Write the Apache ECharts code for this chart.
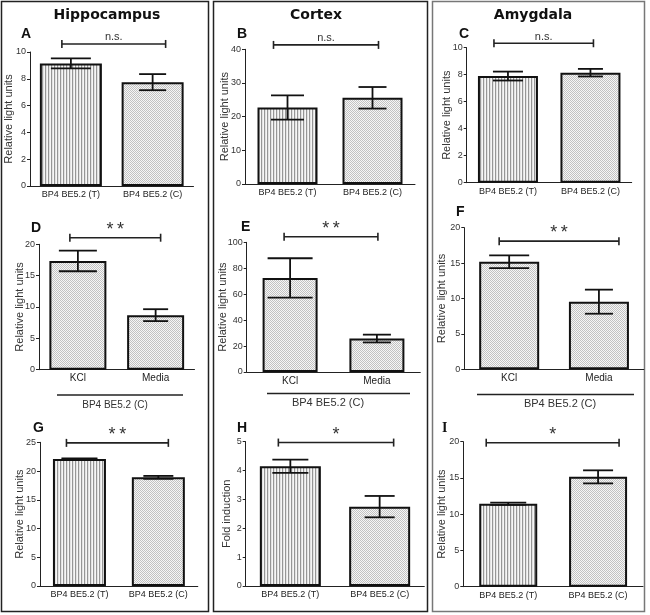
<!DOCTYPE html>
<html><head><meta charset="utf-8">
<script src="https://cdn.jsdelivr.net/npm/echarts@6/dist/echarts.min.js"></script>
<style>html,body{margin:0;padding:0;background:#fff}#c{width:650px;height:615px}</style>
</head><body><div id="c"></div>
<script>
// ---------- DATA ----------
const catsTC = ['BP4 BE5.2 (T)', 'BP4 BE5.2 (C)'];
const catsKM = ['KCl', 'Media'];
const regionTitles = ['Hippocampus', 'Cortex', 'Amygdala'];
const panelLetters = ['A','B','C','D','E','F','G','H','I'];
const groupLabel = 'BP4 BE5.2 (C)';

const meanA = [9.15, 7.75];  const errA = [0.37, 0.6];
const meanB = [22.7, 25.6];  const errB = [3.6, 3.2];
const meanC = [7.9, 8.15];   const errC = [0.33, 0.28];
const meanD = [17.35, 8.7];  const errD = [1.65, 0.95];
const meanE = [72.5, 25.8];  const errE = [15.2, 3.0];
const meanF = [15.2, 9.55];  const errF = [0.9, 1.7];
const meanG = [22.1, 18.9];  const errG = [0.12, 0.25];
const meanH = [4.15, 2.75];  const errH = [0.23, 0.37];
const meanI = [11.45, 15.15]; const errI = [0.15, 0.9];

const sigLabels = ['n.s.','n.s.','n.s.','**','**','**','**','*','*'];
const sigLevel  = [10.6, 41.3, 10.33, 21.05, 104.3, 18.1, 24.9, 4.97, 19.86];

const yMax      = [10, 40, 10, 20, 100, 20, 25, 5, 20];
const yInterval = [2, 10, 2, 5, 20, 5, 5, 1, 5];
const yNames = ['Relative light units','Relative light units','Relative light units',
  'Relative light units','Relative light units','Relative light units',
  'Relative light units','Fold induction','Relative light units'];

const panelCats  = [catsTC, catsTC, catsTC, catsKM, catsKM, catsKM, catsTC, catsTC, catsTC];
const panelMeans = [meanA, meanB, meanC, meanD, meanE, meanF, meanG, meanH, meanI];
const panelErrs  = [errA, errB, errC, errD, errE, errF, errG, errH, errI];

// ---------- LAYOUT (pixels / style only) ----------
const layout = [
  {left:30,    top:52,    width:163.5, height:134,   barW:62, cap:[40,27], ext:[9,13],  gap:16},
  {left:245,   top:49.3,  width:170,   height:134.7, barW:60, cap:[33,28], ext:[14,6],  gap:15},
  {left:466.7, top:47.7,  width:165,   height:135,   barW:60, cap:[30,25], ext:[14,3],  gap:14},
  {left:39,    top:244.3, width:155.5, height:125.4, barW:57, cap:[38,25], ext:[8,5],   gap:13.5},
  {left:246.7, top:242.3, width:173.6, height:129.7, barW:55, cap:[45,28], ext:[6,1],   gap:18},
  {left:464.3, top:227.7, width:179.5, height:141.6, barW:60, cap:[40,28], ext:[10,20], gap:17},
  {left:40,    top:442.3, width:157.8, height:143.7, barW:53, cap:[36,30], ext:[13,10], gap:14.5},
  {left:245.7, top:441.7, width:178.6, height:144.3, barW:61, cap:[36,30], ext:[12,14], gap:13.5},
  {left:463.3, top:441.7, width:179.7, height:145,   barW:58, cap:[36,30], ext:[22,21], gap:16}
];

// ---------- patterns ----------
function makeStripe(){
  const c = document.createElement('canvas'); c.width = 3; c.height = 4;
  const g = c.getContext('2d');
  const cols = ['#969696', '#e2e2e2', '#f6f6f6'];
  cols.forEach((col,i)=>{ g.fillStyle = col; g.fillRect(i,0,1,4); });
  return c;
}
function makeStipple(){
  const c = document.createElement('canvas'); c.width = 2; c.height = 2;
  const g = c.getContext('2d');
  g.fillStyle = '#f6f6f6'; g.fillRect(0,0,2,2);
  g.fillStyle = '#c2c2c2'; g.fillRect(0,0,1,1); g.fillRect(1,1,1,1);
  return c;
}
const stripeFill  = {image: makeStripe(),  repeat: 'repeat'};
const stippleFill = {image: makeStipple(), repeat: 'repeat'};

const sans = "'Liberation Sans', Arial, sans-serif";

const grids = [], xAxes = [], yAxes = [], series = [];
layout.forEach((L, i) => {
  grids.push({left: L.left, top: L.top, width: L.width, height: L.height, containLabel: false});
  const isKM = panelCats[i] === catsKM;
  xAxes.push({
    type: 'category', gridIndex: i, data: panelCats[i],
    axisLine: {lineStyle: {color: '#222', width: 1}},
    axisTick: {alignWithLabel: true, length: 3, lineStyle: {color: '#222'}},
    axisLabel: {color: '#222', fontSize: isKM ? 10 : 9, fontFamily: sans, margin: 4, interval: 0}
  });
  yAxes.push({
    type: 'value', gridIndex: i, min: 0, max: yMax[i], interval: yInterval[i],
    name: yNames[i], nameLocation: 'middle', nameGap: L.gap, nameMoveOverlap: false,
    nameTextStyle: {color: '#333', fontSize: 11, fontFamily: sans},
    splitLine: {show: false},
    axisLine: {show: true, lineStyle: {color: '#222', width: 1}},
    axisTick: {show: true, length: 3, lineStyle: {color: '#222'}},
    axisLabel: {color: '#333', fontSize: 9, fontFamily: sans, margin: 4}
  });
  const means = panelMeans[i], errs = panelErrs[i];
  series.push({
    type: 'bar', xAxisIndex: i, yAxisIndex: i, barWidth: L.barW,
    data: means.map((v, j) => ({
      value: v,
      itemStyle: {color: (isKM || j === 1) ? stippleFill : stripeFill, borderColor: '#111', borderWidth: 2}
    })),
    silent: true, animation: false
  });
  series.push({
    type: 'custom', xAxisIndex: i, yAxisIndex: i, z: 5, animation: false, silent: true,
    data: means.map((v, j) => [j, v, errs[j]]),
    encode: {x: 0, y: 1},
    renderItem: function(params, api){
      const x = api.value(0), m = api.value(1), e = api.value(2);
      const hi = api.coord([x, m + e]), lo = api.coord([x, m - e]);
      const hw = L.cap[params.dataIndex] / 2;
      const st = {stroke: '#111', lineWidth: 1.8};
      return {type: 'group', children: [
        {type: 'line', shape: {x1: hi[0], y1: hi[1], x2: lo[0], y2: lo[1]}, style: st},
        {type: 'line', shape: {x1: hi[0]-hw, y1: hi[1], x2: hi[0]+hw, y2: hi[1]}, style: st},
        {type: 'line', shape: {x1: lo[0]-hw, y1: lo[1], x2: lo[0]+hw, y2: lo[1]}, style: st}
      ]};
    }
  });
  series.push({
    type: 'custom', xAxisIndex: i, yAxisIndex: i, z: 6, animation: false, silent: true, clip: false,
    data: [[0, sigLevel[i], 1]],
    encode: {x: 0, y: 1},
    renderItem: function(params, api){
      const yv = api.value(1);
      const a = api.coord([api.value(0), yv]), b = api.coord([api.value(2), yv]);
      const x1 = a[0] - L.ext[0], x2 = b[0] + L.ext[1], y = a[1];
      const st = {stroke: '#222', lineWidth: 1.6};
      const lab = sigLabels[i];
      const isStar = lab !== 'n.s.';
      const shown = isStar ? lab.split('').join('\u2009') : lab;
      return {type: 'group', children: [
        {type: 'line', shape: {x1: x1, y1: y, x2: x2, y2: y}, style: st},
        {type: 'line', shape: {x1: x1, y1: y-4, x2: x1, y2: y+4}, style: st},
        {type: 'line', shape: {x1: x2, y1: y-4, x2: x2, y2: y+4}, style: st},
        {type: 'text', style: {text: shown, x: (x1+x2)/2, y: isStar ? y + 1 : y - 1,
          align: 'center', verticalAlign: 'bottom', fill: '#333',
          fontSize: isStar ? 18 : 11, fontFamily: sans}}
      ]};
    }
  });
});

const graphics = [];
// boxes
[[1,1,207,610,'#222'],[213,1,214,610,'#222'],[432,1,212,610,'#777']].forEach(b=>{
  graphics.push({type:'rect', shape:{x:b[0]+0.5, y:b[1]+0.5, width:b[2], height:b[3]},
    style:{fill:'none', stroke:b[4], lineWidth:1.5}, silent:true});
});
// titles
[[107,15],[316,15],[533,15]].forEach((p,k)=>{
  graphics.push({type:'text', x:p[0], y:p[1], silent:true,
    style:{text:regionTitles[k], align:'center', verticalAlign:'middle',
      font:"bold 14px 'DejaVu Sans', sans-serif", fill:'#111'}});
});
// letters
const letterPos = [[21,34],[237,34],[459,34],[31,228],[241,227],[456,212],[33,428],[237,428],[442,428]];
letterPos.forEach((p,k)=>{
  const serif = panelLetters[k] === 'I';
  graphics.push({type:'text', x:p[0], y:p[1], silent:true,
    style:{text:panelLetters[k], align:'left', verticalAlign:'middle',
      font: serif ? "bold 14px 'Liberation Serif', serif" : "bold 14px 'Liberation Sans', Arial, sans-serif", fill:'#111'}});
});
// group labels under D,E,F
[[57,183,395,115,405,10],[267,410,393.5,328,403,11],[477,634,394.5,560,404,11]].forEach(g=>{
  graphics.push({type:'line', shape:{x1:g[0], y1:g[2], x2:g[1], y2:g[2]}, style:{stroke:'#222', lineWidth:1.3}, silent:true});
  graphics.push({type:'text', x:g[3], y:g[4], silent:true,
    style:{text:groupLabel, align:'center', verticalAlign:'middle',
      font: g[5] + "px 'Liberation Sans', Arial, sans-serif", fill:'#333'}});
});

const chart = echarts.init(document.getElementById('c'), null, {renderer:'canvas'});
chart.setOption({
  animation: false,
  backgroundColor: '#fff',
  grid: grids, xAxis: xAxes, yAxis: yAxes, series: series,
  graphic: graphics
});
</script>
</body></html>
